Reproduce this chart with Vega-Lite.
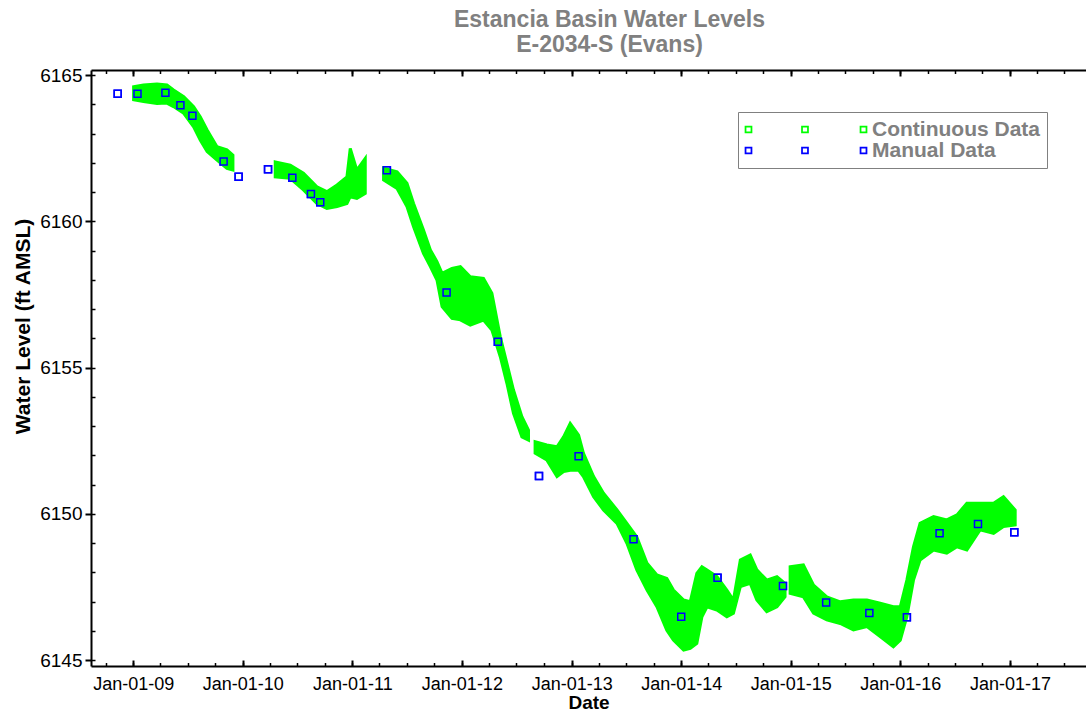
{
  "$schema": "https://vega.github.io/schema/vega-lite/v6.json",
  "width": 995,
  "height": 596,
  "autosize": {"type": "none"},
  "padding": {"left": 91, "top": 70, "right": 0, "bottom": 47},
  "background": "white",
  "title": {
    "text": ["Estancia Basin Water Levels", "E-2034-S (Evans)"],
    "font": "Liberation Sans",
    "fontSize": 23,
    "fontWeight": "bold",
    "color": "#808080",
    "anchor": "middle",
    "dx": 21,
    "offset": 9,
    "lineHeight": 25
  },
  "config": {
    "view": {"stroke": null},
    "axis": {
      "grid": false,
      "labelFont": "Liberation Sans",
      "titleFont": "Liberation Sans",
      "labelColor": "black",
      "titleColor": "black",
      "domainColor": "black",
      "tickColor": "black",
      "labelFontSize": 19,
      "titleFontSize": 20,
      "titleFontWeight": "bold",
      "labelFlush": false,
      "labelOverlap": false
    }
  },
  "datasets": {
    "continuous": [
      {"d": "2009-01-02", "lo": 6164.15, "hi": 6164.60, "seg": "A", "series": "Continuous Data"},
      {"d": "2009-02-04", "lo": 6164.09, "hi": 6164.66, "seg": "A", "series": "Continuous Data"},
      {"d": "2009-03-21", "lo": 6164.03, "hi": 6164.69, "seg": "A", "series": "Continuous Data"},
      {"d": "2009-04-23", "lo": 6164.04, "hi": 6164.66, "seg": "A", "series": "Continuous Data"},
      {"d": "2009-05-15", "lo": 6163.92, "hi": 6164.49, "seg": "A", "series": "Continuous Data"},
      {"d": "2009-06-18", "lo": 6163.69, "hi": 6164.26, "seg": "A", "series": "Continuous Data"},
      {"d": "2009-07-21", "lo": 6163.23, "hi": 6163.92, "seg": "A", "series": "Continuous Data"},
      {"d": "2009-08-12", "lo": 6162.78, "hi": 6163.57, "seg": "A", "series": "Continuous Data"},
      {"d": "2009-09-04", "lo": 6162.38, "hi": 6163.12, "seg": "A", "series": "Continuous Data"},
      {"d": "2009-10-07", "lo": 6162.09, "hi": 6162.55, "seg": "A", "series": "Continuous Data"},
      {"d": "2009-11-09", "lo": 6161.81, "hi": 6162.44, "seg": "A", "series": "Continuous Data"},
      {"d": "2009-11-29", "lo": 6161.75, "hi": 6162.26, "seg": "A", "series": "Continuous Data"},
      {"d": "2010-04-19", "lo": 6161.52, "hi": 6162.03, "seg": "B", "series": "Continuous Data"},
      {"d": "2010-06-08", "lo": 6161.47, "hi": 6161.92, "seg": "B", "series": "Continuous Data"},
      {"d": "2010-07-22", "lo": 6161.07, "hi": 6161.64, "seg": "B", "series": "Continuous Data"},
      {"d": "2010-09-05", "lo": 6160.61, "hi": 6161.18, "seg": "B", "series": "Continuous Data"},
      {"d": "2010-10-08", "lo": 6160.44, "hi": 6161.01, "seg": "B", "series": "Continuous Data"},
      {"d": "2010-11-11", "lo": 6160.50, "hi": 6161.24, "seg": "B", "series": "Continuous Data"},
      {"d": "2010-12-14", "lo": 6160.61, "hi": 6161.52, "seg": "B", "series": "Continuous Data"},
      {"d": "2010-12-25", "lo": 6160.84, "hi": 6162.49, "seg": "B", "series": "Continuous Data"},
      {"d": "2011-01-16", "lo": 6160.78, "hi": 6161.75, "seg": "B", "series": "Continuous Data"},
      {"d": "2011-02-13", "lo": 6160.95, "hi": 6162.15, "seg": "B", "series": "Continuous Data"},
      {"d": "2011-04-15", "lo": 6161.41, "hi": 6161.81, "seg": "C", "series": "Continuous Data"},
      {"d": "2011-05-30", "lo": 6161.12, "hi": 6161.69, "seg": "C", "series": "Continuous Data"},
      {"d": "2011-07-02", "lo": 6160.50, "hi": 6161.30, "seg": "C", "series": "Continuous Data"},
      {"d": "2011-07-24", "lo": 6159.81, "hi": 6160.61, "seg": "C", "series": "Continuous Data"},
      {"d": "2011-08-26", "lo": 6158.90, "hi": 6159.70, "seg": "C", "series": "Continuous Data"},
      {"d": "2011-09-18", "lo": 6158.45, "hi": 6159.02, "seg": "C", "series": "Continuous Data"},
      {"d": "2011-10-10", "lo": 6157.99, "hi": 6158.62, "seg": "C", "series": "Continuous Data"},
      {"d": "2011-10-27", "lo": 6157.08, "hi": 6158.22, "seg": "C", "series": "Continuous Data"},
      {"d": "2011-11-29", "lo": 6156.68, "hi": 6158.39, "seg": "C", "series": "Continuous Data"},
      {"d": "2011-12-27", "lo": 6156.63, "hi": 6158.45, "seg": "C", "series": "Continuous Data"},
      {"d": "2012-01-29", "lo": 6156.45, "hi": 6158.10, "seg": "C", "series": "Continuous Data"},
      {"d": "2012-03-13", "lo": 6156.62, "hi": 6158.05, "seg": "C", "series": "Continuous Data"},
      {"d": "2012-04-10", "lo": 6156.28, "hi": 6157.54, "seg": "C", "series": "Continuous Data"},
      {"d": "2012-05-08", "lo": 6155.37, "hi": 6156.05, "seg": "C", "series": "Continuous Data"},
      {"d": "2012-05-30", "lo": 6154.46, "hi": 6155.14, "seg": "C", "series": "Continuous Data"},
      {"d": "2012-06-21", "lo": 6153.43, "hi": 6154.23, "seg": "C", "series": "Continuous Data"},
      {"d": "2012-07-19", "lo": 6152.63, "hi": 6153.32, "seg": "C", "series": "Continuous Data"},
      {"d": "2012-08-10", "lo": 6152.52, "hi": 6152.86, "seg": "C", "series": "Continuous Data"},
      {"d": "2012-09-01", "lo": 6152.07, "hi": 6152.46, "seg": "D", "series": "Continuous Data"},
      {"d": "2012-10-10", "lo": 6151.84, "hi": 6152.35, "seg": "D", "series": "Continuous Data"},
      {"d": "2012-11-13", "lo": 6151.27, "hi": 6152.29, "seg": "D", "series": "Continuous Data"},
      {"d": "2012-12-05", "lo": 6151.44, "hi": 6152.63, "seg": "D", "series": "Continuous Data"},
      {"d": "2012-12-27", "lo": 6151.49, "hi": 6153.09, "seg": "D", "series": "Continuous Data"},
      {"d": "2013-01-24", "lo": 6151.49, "hi": 6152.69, "seg": "D", "series": "Continuous Data"},
      {"d": "2013-02-09", "lo": 6151.27, "hi": 6152.07, "seg": "D", "series": "Continuous Data"},
      {"d": "2013-03-15", "lo": 6150.58, "hi": 6151.27, "seg": "D", "series": "Continuous Data"},
      {"d": "2013-04-17", "lo": 6150.13, "hi": 6150.70, "seg": "D", "series": "Continuous Data"},
      {"d": "2013-06-01", "lo": 6149.67, "hi": 6150.13, "seg": "D", "series": "Continuous Data"},
      {"d": "2013-07-04", "lo": 6148.99, "hi": 6149.67, "seg": "D", "series": "Continuous Data"},
      {"d": "2013-08-06", "lo": 6148.08, "hi": 6149.21, "seg": "D", "series": "Continuous Data"},
      {"d": "2013-09-09", "lo": 6147.39, "hi": 6148.31, "seg": "D", "series": "Continuous Data"},
      {"d": "2013-10-12", "lo": 6146.82, "hi": 6147.91, "seg": "D", "series": "Continuous Data"},
      {"d": "2013-11-14", "lo": 6146.02, "hi": 6147.79, "seg": "D", "series": "Continuous Data"},
      {"d": "2013-12-06", "lo": 6145.68, "hi": 6147.39, "seg": "D", "series": "Continuous Data"},
      {"d": "2014-01-09", "lo": 6145.34, "hi": 6147.05, "seg": "D", "series": "Continuous Data"},
      {"d": "2014-01-31", "lo": 6145.40, "hi": 6146.99, "seg": "D", "series": "Continuous Data"},
      {"d": "2014-02-22", "lo": 6145.57, "hi": 6147.96, "seg": "D", "series": "Continuous Data"},
      {"d": "2014-03-11", "lo": 6146.48, "hi": 6148.19, "seg": "D", "series": "Continuous Data"},
      {"d": "2014-03-28", "lo": 6146.82, "hi": 6148.08, "seg": "D", "series": "Continuous Data"},
      {"d": "2014-04-30", "lo": 6146.71, "hi": 6147.85, "seg": "D", "series": "Continuous Data"},
      {"d": "2014-06-02", "lo": 6146.48, "hi": 6147.39, "seg": "D", "series": "Continuous Data"},
      {"d": "2014-06-24", "lo": 6146.60, "hi": 6147.05, "seg": "D", "series": "Continuous Data"},
      {"d": "2014-07-17", "lo": 6147.51, "hi": 6148.42, "seg": "D", "series": "Continuous Data"},
      {"d": "2014-08-19", "lo": 6147.62, "hi": 6148.59, "seg": "D", "series": "Continuous Data"},
      {"d": "2014-09-10", "lo": 6147.05, "hi": 6148.08, "seg": "D", "series": "Continuous Data"},
      {"d": "2014-10-13", "lo": 6146.65, "hi": 6147.73, "seg": "D", "series": "Continuous Data"},
      {"d": "2014-11-16", "lo": 6146.82, "hi": 6147.85, "seg": "D", "series": "Continuous Data"},
      {"d": "2014-12-13", "lo": 6147.16, "hi": 6147.62, "seg": "D", "series": "Continuous Data"},
      {"d": "2014-12-30", "lo": 6147.28, "hi": 6148.19, "seg": "E", "series": "Continuous Data"},
      {"d": "2015-02-12", "lo": 6147.16, "hi": 6148.25, "seg": "E", "series": "Continuous Data"},
      {"d": "2015-03-18", "lo": 6146.60, "hi": 6147.56, "seg": "E", "series": "Continuous Data"},
      {"d": "2015-05-01", "lo": 6146.37, "hi": 6147.16, "seg": "E", "series": "Continuous Data"},
      {"d": "2015-06-15", "lo": 6146.25, "hi": 6146.99, "seg": "E", "series": "Continuous Data"},
      {"d": "2015-07-29", "lo": 6146.03, "hi": 6147.05, "seg": "E", "series": "Continuous Data"},
      {"d": "2015-09-12", "lo": 6146.14, "hi": 6147.05, "seg": "E", "series": "Continuous Data"},
      {"d": "2015-10-26", "lo": 6145.80, "hi": 6146.94, "seg": "E", "series": "Continuous Data"},
      {"d": "2015-12-09", "lo": 6145.45, "hi": 6146.82, "seg": "E", "series": "Continuous Data"},
      {"d": "2016-01-01", "lo": 6145.68, "hi": 6146.82, "seg": "E", "series": "Continuous Data"},
      {"d": "2016-01-23", "lo": 6146.48, "hi": 6147.73, "seg": "E", "series": "Continuous Data"},
      {"d": "2016-02-14", "lo": 6147.73, "hi": 6148.87, "seg": "E", "series": "Continuous Data"},
      {"d": "2016-03-07", "lo": 6148.42, "hi": 6149.67, "seg": "E", "series": "Continuous Data"},
      {"d": "2016-04-21", "lo": 6148.76, "hi": 6149.90, "seg": "E", "series": "Continuous Data"},
      {"d": "2016-06-04", "lo": 6148.65, "hi": 6149.79, "seg": "E", "series": "Continuous Data"},
      {"d": "2016-07-08", "lo": 6148.87, "hi": 6149.96, "seg": "E", "series": "Continuous Data"},
      {"d": "2016-08-10", "lo": 6148.76, "hi": 6150.36, "seg": "E", "series": "Continuous Data"},
      {"d": "2016-09-23", "lo": 6149.45, "hi": 6150.36, "seg": "E", "series": "Continuous Data"},
      {"d": "2016-11-07", "lo": 6149.33, "hi": 6150.36, "seg": "E", "series": "Continuous Data"},
      {"d": "2016-12-10", "lo": 6149.56, "hi": 6150.58, "seg": "E", "series": "Continuous Data"},
      {"d": "2017-01-18", "lo": 6149.62, "hi": 6150.13, "seg": "E", "series": "Continuous Data"}
    ],
    "manual": [
      {"d": "2008-11-10", "v": 6164.36, "series": "Manual Data"},
      {"d": "2009-01-15", "v": 6164.36, "series": "Manual Data"},
      {"d": "2009-04-18", "v": 6164.39, "series": "Manual Data"},
      {"d": "2009-06-07", "v": 6163.97, "series": "Manual Data"},
      {"d": "2009-07-17", "v": 6163.61, "series": "Manual Data"},
      {"d": "2009-10-29", "v": 6162.04, "series": "Manual Data"},
      {"d": "2009-12-18", "v": 6161.52, "series": "Manual Data"},
      {"d": "2010-03-26", "v": 6161.78, "series": "Manual Data"},
      {"d": "2010-06-15", "v": 6161.49, "series": "Manual Data"},
      {"d": "2010-08-16", "v": 6160.93, "series": "Manual Data"},
      {"d": "2010-09-16", "v": 6160.65, "series": "Manual Data"},
      {"d": "2011-04-26", "v": 6161.74, "series": "Manual Data"},
      {"d": "2011-11-11", "v": 6157.56, "series": "Manual Data"},
      {"d": "2012-04-30", "v": 6155.88, "series": "Manual Data"},
      {"d": "2012-09-14", "v": 6151.29, "series": "Manual Data"},
      {"d": "2013-01-24", "v": 6151.97, "series": "Manual Data"},
      {"d": "2013-07-26", "v": 6149.13, "series": "Manual Data"},
      {"d": "2014-01-01", "v": 6146.48, "series": "Manual Data"},
      {"d": "2014-05-02", "v": 6147.81, "series": "Manual Data"},
      {"d": "2014-12-06", "v": 6147.53, "series": "Manual Data"},
      {"d": "2015-04-29", "v": 6146.97, "series": "Manual Data"},
      {"d": "2015-09-20", "v": 6146.61, "series": "Manual Data"},
      {"d": "2016-01-23", "v": 6146.46, "series": "Manual Data"},
      {"d": "2016-05-11", "v": 6149.33, "series": "Manual Data"},
      {"d": "2016-09-16", "v": 6149.65, "series": "Manual Data"},
      {"d": "2017-01-15", "v": 6149.37, "series": "Manual Data"}
    ]
  },
  "layer": [
    {
      "data": {"name": "manual"},
      "mark": {"type": "point", "shape": "square", "filled": false, "size": 49, "strokeWidth": 1.5, "opacity": 1},
      "encoding": {
        "x": {
          "field": "d", "type": "temporal",
          "scale": {"type": "utc", "domain": [{"year": 2008, "month": 8, "date": 13, "utc": true}, {"year": 2017, "month": 9, "date": 11, "utc": true}]},
          "axis": {
            "orient": "bottom", "title": null, "labels": false, "domain": false,
            "tickCount": {"interval": "month", "step": 3},
            "tickSize": -3.5, "tickWidth": 1.5
          }
        },
        "y": {
          "field": "v", "type": "quantitative",
          "scale": {"domain": [6144.795, 6165.171], "nice": false, "zero": false},
          "axis": {
            "orient": "left", "title": null, "labels": false, "domain": false,
            "values": [6145, 6146, 6147, 6148, 6149, 6150, 6151, 6152, 6153, 6154, 6155, 6156, 6157, 6158, 6159, 6160, 6161, 6162, 6163, 6164, 6165],
            "tickSize": -4, "tickWidth": 1.5
          }
        },
        "color": {
          "field": "series", "type": "nominal",
          "scale": {"domain": ["Continuous Data", "Manual Data"], "range": ["#00FF00", "#0000FF"]},
          "legend": {
            "orient": "none", "legendX": 647, "legendY": 42, "title": null,
            "padding": 7, "strokeColor": "#808080",
            "labelFont": "Liberation Sans", "labelFontSize": 21, "labelFontWeight": "bold", "labelColor": "#808080",
            "labelLimit": 400,
            "symbolType": "M-3.1,-1.1h2.2v2.2h-2.2zM-2.6,-0.6v1.2h1.2v-1.2zM13.04,-1.1h2.2v2.2h-2.2zM13.54,-0.6v1.2h1.2v-1.2zM29.76,-1.1h2.2v2.2h-2.2zM30.26,-0.6v1.2h1.2v-1.2z",
            "symbolSize": 49, "symbolStrokeWidth": 0, "symbolOpacity": 1,
            "labelOffset": 106, "rowPadding": -3
          }
        }
      }
    },
    {
      "data": {"name": "continuous"},
      "mark": {"type": "area", "line": false, "stroke": "#00FF00", "strokeWidth": 3, "strokeJoin": "miter"},
      "encoding": {
        "x": {
          "field": "d", "type": "temporal",
          "scale": {"type": "utc", "domain": [{"year": 2008, "month": 8, "date": 13, "utc": true}, {"year": 2017, "month": 9, "date": 11, "utc": true}]},
          "axis": {
            "orient": "bottom", "title": "Date", "format": "%b-%d-%y",
            "tickCount": {"interval": "year", "step": 1},
            "tickSize": -6, "tickWidth": 2, "domainWidth": 2,
            "labelFontSize": 18, "labelPadding": 15,
            "titleFontSize": 19, "titlePadding": 0
          }
        },
        "y": {
          "field": "hi", "type": "quantitative",
          "scale": {"domain": [6144.795, 6165.171], "nice": false, "zero": false},
          "axis": {
            "orient": "left", "title": "Water Level (ft AMSL)",
            "values": [6145, 6150, 6155, 6160, 6165], "format": "d",
            "tickSize": 6, "tickWidth": 2, "domainWidth": 2,
            "labelPadding": 3, "titlePadding": 6, "titleFontSize": 21,
            "titleY": 256
          }
        },
        "y2": {"field": "lo"},
        "detail": {"field": "seg"},
        "color": {"field": "series", "type": "nominal"}
      }
    },
    {
      "data": {"name": "manual"},
      "mark": {"type": "point", "shape": "square", "filled": false, "size": 49, "strokeWidth": 1.5, "opacity": 1},
      "encoding": {
        "x": {
          "field": "d", "type": "temporal",
          "scale": {"type": "utc", "domain": [{"year": 2008, "month": 8, "date": 13, "utc": true}, {"year": 2017, "month": 9, "date": 11, "utc": true}]},
          "axis": null
        },
        "y": {"field": "v", "type": "quantitative", "axis": null},
        "color": {"field": "series", "type": "nominal"}
      }
    },
    {
      "data": {"name": "manual"},
      "mark": {"type": "point", "opacity": 0},
      "encoding": {
        "x": {
          "field": "d", "type": "temporal",
          "scale": {"type": "utc", "domain": [{"year": 2008, "month": 8, "date": 13, "utc": true}, {"year": 2017, "month": 9, "date": 11, "utc": true}]},
          "axis": {
            "orient": "top", "title": null, "labels": false, "domain": true, "domainWidth": 2,
            "tickCount": {"interval": "year", "step": 1},
            "tickSize": -6, "tickWidth": 2
          }
        },
        "y": {"field": "v", "type": "quantitative", "axis": null}
      }
    },
    {
      "data": {"name": "manual"},
      "mark": {"type": "point", "opacity": 0},
      "encoding": {
        "x": {
          "field": "d", "type": "temporal",
          "scale": {"type": "utc", "domain": [{"year": 2008, "month": 8, "date": 13, "utc": true}, {"year": 2017, "month": 9, "date": 11, "utc": true}]},
          "axis": {
            "orient": "top", "title": null, "labels": false, "domain": false,
            "tickCount": {"interval": "month", "step": 3},
            "tickSize": -3.5, "tickWidth": 1.5
          }
        },
        "y": {"field": "v", "type": "quantitative", "axis": null}
      }
    }
  ],
  "resolve": {"axis": {"x": "independent", "y": "independent"}}
}
